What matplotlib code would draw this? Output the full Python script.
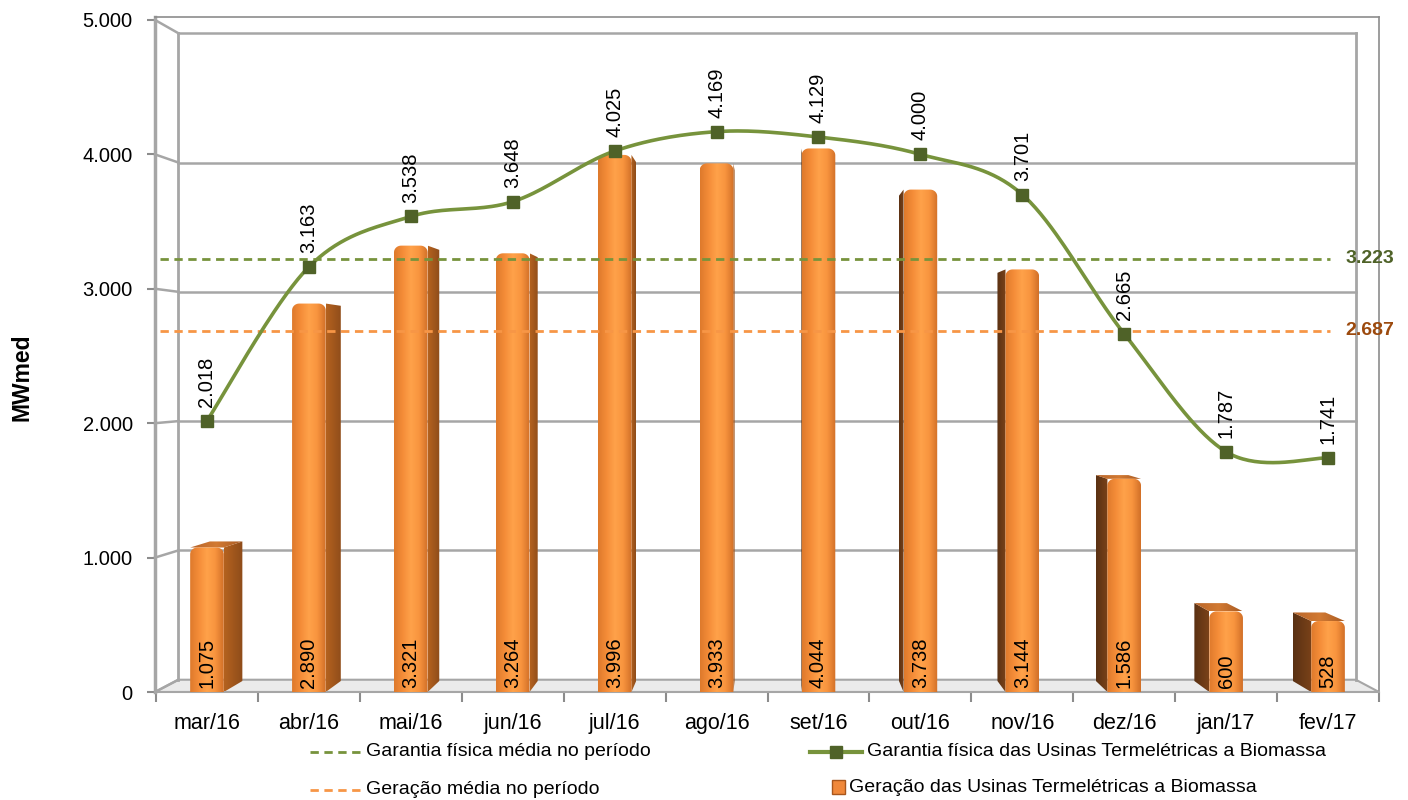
import numpy as np
import matplotlib.pyplot as plt
from matplotlib.patches import Polygon, Rectangle
from matplotlib.lines import Line2D
from matplotlib.colors import LinearSegmentedColormap

plt.rcParams['font.family'] = ['Liberation Sans', 'DejaVu Sans']

#---------- dados ----------#
meses = ['mar/16', 'abr/16', 'mai/16', 'jun/16', 'jul/16', 'ago/16',
         'set/16', 'out/16', 'nov/16', 'dez/16', 'jan/17', 'fev/17']
geracao = [1075, 2890, 3321, 3264, 3996, 3933, 4044, 3738, 3144, 1586, 600, 528]
garantia = [2018, 3163, 3538, 3648, 4025, 4169, 4129, 4000, 3701, 2665, 1787, 1741]
media_garantia = 3223
media_geracao = 2687
y_ticks = [0, 1000, 2000, 3000, 4000, 5000]

VERDE = '#77933C'
VERDE_ESC = '#4F6228'
LARANJA = '#F79646'
LARANJA_ESC = '#9C4A0E'
CINZA = '#A6A6A6'

# ponto de fuga da perspectiva (em unidades de dados)
VX, VY = 5.52, 2403
X0, X1 = -0.51, 11.5
YMAX = 5022


def br(v):
    '''formato brasileiro: 3.223'''
    return f'{v:,}'.replace(',', '.')


def fundo(x, y, k):
    '''leva um ponto da face frontal para o fundo, em direcao ao ponto de fuga'''
    return VX + (x - VX) * k, VY + (y - VY) * k


def curva_suave(xs, ys, n=40):
    '''linha suavizada (bezier tipo catmull-rom) passando pelos pontos'''
    x = np.asarray(xs, float)
    y = np.asarray(ys, float)
    px = np.concatenate([[x[0]], x, [x[-1]]])
    py = np.concatenate([[y[0]], y, [y[-1]]])
    t = np.linspace(0, 1, n)[:, None]
    out = []
    for i in range(len(x) - 1):
        p0 = np.array([px[i], py[i]])
        p1 = np.array([px[i + 1], py[i + 1]])
        p2 = np.array([px[i + 2], py[i + 2]])
        p3 = np.array([px[i + 3], py[i + 3]])
        c1 = p1 + (p2 - p0) / 6
        c2 = p2 - (p3 - p1) / 6
        seg = ((1 - t) ** 3) * p1 + 3 * ((1 - t) ** 2) * t * c1 + 3 * (1 - t) * t ** 2 * c2 + t ** 3 * p2
        out.append(seg)
    out = np.vstack(out)
    return out[:, 0], out[:, 1]


def preencher(ax, verts, cores, z):
    '''poligono preenchido com degrade horizontal'''
    verts = np.asarray(verts)
    poly = Polygon(verts, closed=True, fc='none', ec='none', zorder=z)
    ax.add_patch(poly)
    cmap = LinearSegmentedColormap.from_list('g', cores)
    grad = np.linspace(0, 1, 64).reshape(1, -1)
    im = ax.imshow(grad, cmap=cmap, aspect='auto', interpolation='bilinear', zorder=z,
                   extent=[verts[:, 0].min(), verts[:, 0].max(), verts[:, 1].min(), verts[:, 1].max()])
    im.set_clip_path(poly)


def barra(ax, xc, v, w=0.33, k=0.966):
    '''coluna 3D com topo arredondado'''
    x0, x1 = xc - w / 2, xc + w / 2
    bx0, by0 = fundo(x0, 0, k)
    bx1, _ = fundo(x1, 0, k)
    _, byv = fundo(x0, v, k)
    if xc < VX:
        lado = [(x1, 0), (x1, v), (bx1, byv), (bx1, by0)]
        preencher(ax, lado, ['#B4621F', '#8E4C1A'], 2)
    else:
        lado = [(x0, 0), (x0, v), (bx0, byv), (bx0, by0)]
        preencher(ax, lado, ['#5A3113', '#7A4219'], 2)
    if v < VY:
        topo = [(x0, v), (x1, v), (bx1, byv), (bx0, byv)]
        preencher(ax, topo, ['#B8652A', '#D27A33', '#A85A22'], 2.1)
    rx, ry = 0.07, 50
    a = np.linspace(np.pi, np.pi / 2, 10)
    esq = np.column_stack([x0 + rx + rx * np.cos(a), v - ry + ry * np.sin(a)])
    a = np.linspace(np.pi / 2, 0, 10)
    dir_ = np.column_stack([x1 - rx + rx * np.cos(a), v - ry + ry * np.sin(a)])
    frente = np.vstack([[(x0, 0)], esq, dir_, [(x1, 0)]])
    preencher(ax, frente, ['#DE7A2C', '#F48C38', '#FFA24A', '#F8943E', '#D27028'], 3)


fig = plt.figure(figsize=(14.08, 8), dpi=100)
ax = fig.add_axes([155 / 1408, 108 / 800, 1224 / 1408, 675 / 800])

#---------- paredes e piso ----------#
K = 0.962
bl, y0b = fundo(X0, 0, K)
br_, _ = fundo(X1, 0, K)
ax.add_patch(Polygon([(X0, 0), (X1, 0), (br_, y0b), (bl, y0b)], closed=True,
                     fc='#EBEBEB', ec=CINZA, lw=1.5, zorder=1))
for v in y_ticks:
    yb = fundo(0, v, K)[1]
    ax.plot([X0, bl], [v, yb], color=CINZA, lw=1.8, zorder=1, clip_on=False)
    if v > 0:
        ax.plot([bl, br_], [yb, yb], color=CINZA, lw=1.8, zorder=1)
y5b = fundo(0, 5000, K)[1]
ax.plot([bl, bl], [y0b, y5b], color=CINZA, lw=2, zorder=1)
ax.plot([br_, br_], [y0b, y5b], color=CINZA, lw=2, zorder=1)

#---------- colunas de geracao ----------#
for i, v in enumerate(geracao):
    barra(ax, i, v)
    ax.text(i, 30, br(v), rotation=90, ha='center', va='bottom', fontsize=14.5, zorder=9)

#---------- medias do periodo ----------#
ax.plot([-0.46, 11.02], [media_garantia] * 2, ls=(0, (3, 2)), color=VERDE, lw=2, zorder=5)
ax.plot([-0.46, 11.02], [media_geracao] * 2, ls=(0, (3, 2)), color=LARANJA, lw=2, zorder=5)
ax.text(11.17, media_garantia, br(media_garantia), va='center', ha='left', fontsize=14,
        fontweight='bold', color=VERDE_ESC, zorder=9)
ax.text(11.17, media_geracao, br(media_geracao), va='center', ha='left', fontsize=14,
        fontweight='bold', color=LARANJA_ESC, zorder=9)

#---------- garantia fisica ----------#
xs = np.arange(len(meses))
sx, sy = curva_suave(xs, garantia)
ax.plot(sx, sy, color=VERDE, lw=2.6, zorder=6, solid_capstyle='round')
ax.plot(xs, garantia, ls='none', marker='s', ms=8, mfc=VERDE_ESC, mec=VERDE_ESC, zorder=7)
for i, v in enumerate(garantia):
    ax.annotate(br(v), (i, v), xytext=(0, 10), textcoords='offset points', rotation=90,
                ha='center', va='bottom', fontsize=14.5, zorder=9)

#---------- eixos ----------#
ax.set_xlim(X0, X1)
ax.set_ylim(0, YMAX)
for lado in ['top', 'right']:
    ax.spines[lado].set_color('#8C8C8C')
    ax.spines[lado].set_linewidth(1.2)
ax.spines['left'].set_color(CINZA)
ax.spines['left'].set_linewidth(2.5)
ax.spines['bottom'].set_color(CINZA)
ax.spines['bottom'].set_linewidth(1.5)
ax.set_yticks(y_ticks, [br(v) for v in y_ticks])
ax.tick_params(axis='y', length=6, width=1.5, color='#8C8C8C', pad=10, labelsize=14.5)
ax.set_xticks(xs, meses)
ax.set_xticks(np.arange(-0.5, 11.6, 1), minor=True)
ax.tick_params(axis='x', which='major', length=0, pad=15, labelsize=15.5)
ax.tick_params(axis='x', which='minor', length=7, width=1.5, color='#8C8C8C')

fig.text(22 / 1408, 1 - 377 / 800, 'MWmed', rotation=90, ha='center', va='center',
         fontsize=16.5, fontweight='bold')

#---------- legenda ----------#
lax = fig.add_axes([0, 0, 1, 1])
lax.set_xlim(0, 1408)
lax.set_ylim(800, 0)
lax.axis('off')
lax.add_line(Line2D([310, 362], [752, 752], ls=(0, (3, 2)), color=VERDE, lw=2))
lax.text(366, 752, 'Garantia física média no período', va='center', fontsize=14)
lax.add_line(Line2D([310, 362], [790, 790], ls=(0, (3, 2)), color=LARANJA, lw=2))
lax.text(366, 790, 'Geração média no período', va='center', fontsize=14)
lax.add_line(Line2D([810, 862], [752, 752], color=VERDE, lw=3))
lax.add_line(Line2D([836], [752], ls='none', marker='s', ms=8, mfc=VERDE_ESC, mec=VERDE_ESC))
lax.text(867, 752, 'Garantia física das Usinas Termelétricas a Biomassa', va='center', fontsize=14)
lax.add_patch(Rectangle((832, 780), 13, 14, fc='#F0883A', ec='#A8561C', lw=1))
lax.text(849, 787, 'Geração das Usinas Termelétricas a Biomassa', va='center', fontsize=14)

fig.savefig('out.png', dpi=100)
